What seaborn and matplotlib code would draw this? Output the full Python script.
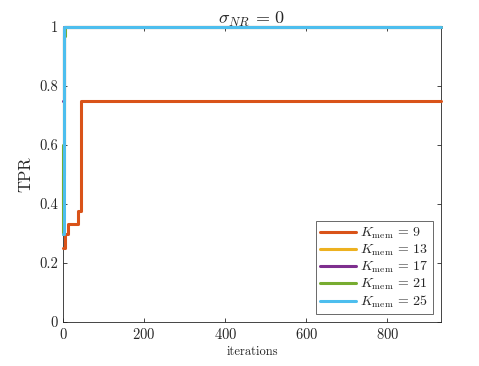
import pandas as pd
import matplotlib
matplotlib.use("Agg")
import matplotlib.pyplot as plt
import seaborn as sns

# -----------------------------
# DATA
# -----------------------------
k_values = [9, 13, 17, 21, 25]

iters_k9 = [0, 4, 12, 36, 44, 932]
tpr_k9 = [0.25, 0.30, 0.333, 0.375, 0.75, 0.75]

iters_k13 = [0, 1, 2, 932]
tpr_k13 = [0.40, 0.50, 1.0, 1.0]

iters_k17 = [0, 2, 932]
tpr_k17 = [0.75, 1.0, 1.0]

iters_k21 = [0, 1, 3, 5, 932]
tpr_k21 = [0.30, 0.60, 0.97, 1.0, 1.0]

iters_k25 = [0, 2, 932]
tpr_k25 = [0.30, 1.0, 1.0]

colors = ["#D95319", "#EDB120", "#7E2F8E", "#77AC30", "#4DBEEE"]

series = [
    (iters_k9, tpr_k9),
    (iters_k13, tpr_k13),
    (iters_k17, tpr_k17),
    (iters_k21, tpr_k21),
    (iters_k25, tpr_k25),
]

labels = [r"$K_{\rm mem}\,=\,%d$" % k for k in k_values]

rows = []
for lab, (xs, ys) in zip(labels, series):
    for x, y in zip(xs, ys):
        rows.append({"iterations": x, "TPR": y, "K": lab})
df = pd.DataFrame(rows)

# -----------------------------
# STYLE
# -----------------------------
sns.set_style("ticks")
plt.rcParams["font.family"] = "serif"
plt.rcParams["font.serif"] = ["cmr10"]
plt.rcParams["mathtext.fontset"] = "cm"
plt.rcParams["axes.formatter.use_mathtext"] = True

fig = plt.figure(figsize=(4.79, 3.66), dpi=100)
ax = fig.add_axes([0.1315, 0.1202, 0.7892, 0.8058])

sns.lineplot(
    data=df, x="iterations", y="TPR", hue="K",
    hue_order=labels, palette=colors,
    estimator=None, sort=False, drawstyle="steps-post",
    linewidth=2.2, ax=ax,
)
# lines sit on top of the box, like MATLAB
for line in ax.get_lines():
    line.set_clip_on(False)
    line.set_zorder(3)

ax.set_xlim(0, 932)
ax.set_ylim(0, 1)
ax.set_xticks([0, 200, 400, 600, 800])
ax.set_yticks([0, 0.2, 0.4, 0.6, 0.8, 1])
ax.set_yticklabels(["0", "0.2", "0.4", "0.6", "0.8", "1"])

ax.tick_params(direction="in", top=True, right=True, length=3,
               labelsize=10.5, color="#262626", labelcolor="#262626", width=0.6)
for sp in ax.spines.values():
    sp.set_color("#262626")
    sp.set_linewidth(0.6)

ax.set_xlabel("iterations", fontsize=9, color="#262626", labelpad=3)
ax.set_ylabel("TPR", fontsize=12, color="#262626", labelpad=4)
ax.set_title(r"$\sigma_{NR}\,=\,0$", fontsize=13, pad=2)

leg = ax.legend(loc="lower right", fontsize=10, handlelength=2.6,
                frameon=True, fancybox=False, borderpad=0.3,
                labelspacing=0.12, handletextpad=0.3, borderaxespad=0,
                bbox_to_anchor=(0.979, 0.027))
leg.get_frame().set_edgecolor("#262626")
leg.get_frame().set_linewidth(0.6)
leg.set_zorder(5)
for line in leg.get_lines():
    line.set_linewidth(2.2)

plt.savefig("out.png", dpi=100)
